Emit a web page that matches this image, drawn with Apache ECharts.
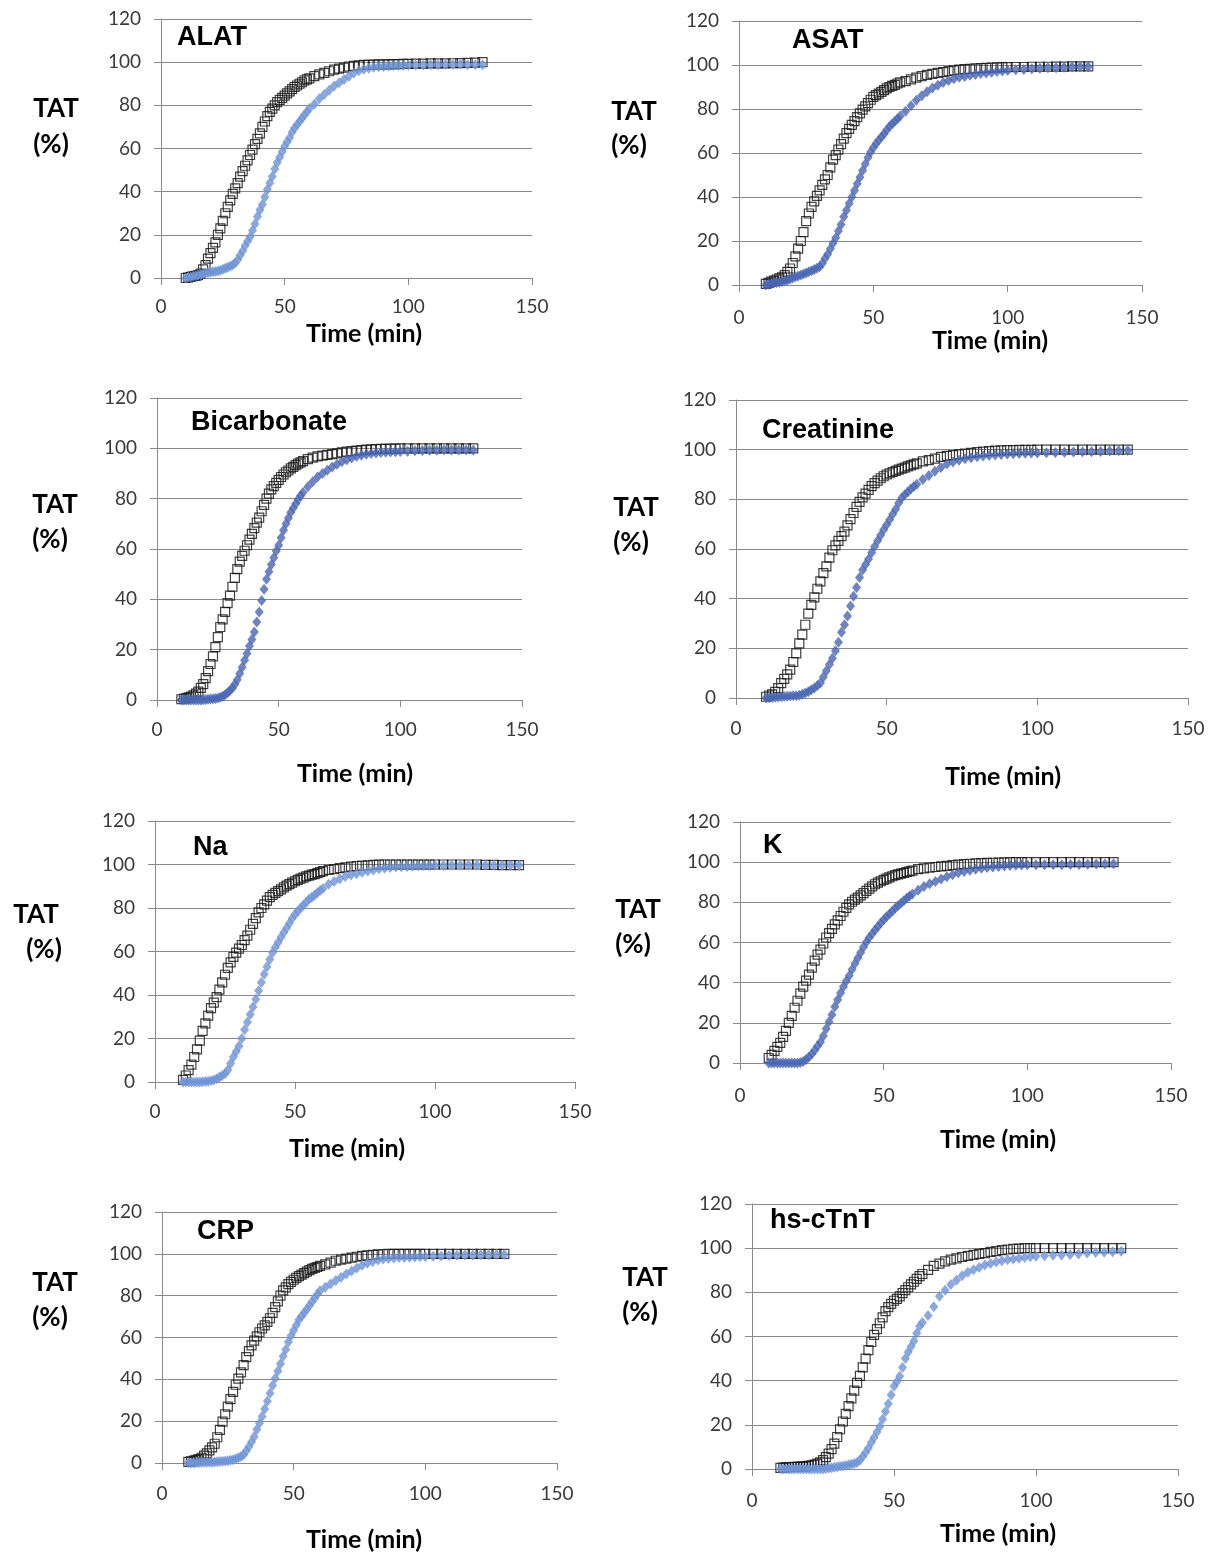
<!DOCTYPE html>
<html>
<head>
<meta charset="utf-8">
<script src="https://cdn.jsdelivr.net/npm/echarts@6/dist/echarts.min.js"></script>
<style>
html,body{margin:0;padding:0;background:#fff;}
#chart{width:1221px;height:1556px;}
</style>
</head>
<body>
<div id="chart"></div>
<script>
// ---------------- DATA ----------------
const panelTitles = ["ALAT", "ASAT", "Bicarbonate", "Creatinine", "Na", "K", "CRP", "hs-cTnT"];
const xTicks = [0, 50, 100, 150];
const yTicks = [0, 20, 40, 60, 80, 100, 120];

// time (min) at which the cumulative TAT (%) is read
const times = [10,11,12,13,14,15,16,17,18,19,20,21,22,23,24,25,26,27,28,29,
  30,31,32,33,34,35,36,37,38,39,40,41,42,43,44,45,46,47,48,49,
  50,51,52,53,54,55,56,57,58,59,60,
  62,64,66,68,70,72,74,76,78,80,82,84,86,88,90,92,94,96,98,100,
  103,106,109,112,115,118,121,124,127,130];

// black open squares
const alatSq = [0,0.3,0.5,0.8,1,1.3,2,4,6,9,11.5,14,16.5,20,23,26.5,30,33,36,39,
  41.5,44,47,49.5,52,54.5,57,59.5,62,64.5,67,70,72.5,75,77,78.5,80,81.5,82.5,83.5,
  84.5,85.5,86.5,87.5,88.5,89.2,90,90.7,91.5,92,92.5,
  93.5,94.3,95,95.8,96.5,97,97.5,98,98.3,98.5,98.7,98.8,98.9,99,99,99,99.1,99.1,99.2,99.2,
  99.3,99.3,99.4,99.4,99.4,99.5,99.6,99.7,99.8,100];
// blue diamonds
const alatDi = [0,0.3,0.5,0.8,1,1.3,1.6,2,2.2,2.5,2.7,2.9,3,3.3,3.6,4,4.5,5,5.5,6,
  7,8.5,10.5,12.5,15,17,19,22,25,28.5,31.5,34,37.5,41,44,47,50.5,53.5,56,58.5,
  61,63,65,67.5,69.5,71,72.5,74,75.5,77,78.5,
  80.5,83,85,87,89,90.5,92,93.5,95,96,96.7,97.2,97.6,97.9,98,98.2,98.3,98.4,98.5,98.6,
  98.7,98.7,98.8,98.8,98.9,98.9,99,98.8,98.8,98.8];

const asatSq = [0.5,1,1.5,2,2.5,3,3.5,4.5,6,7.5,10,13,16.5,20,24,29,32.5,35.5,38,40.5,
  43,45.5,48,50,53.5,57,59,61.5,64,66.5,69,71,72.8,74.5,76.3,78,79.7,81.2,82.7,84.2,
  85.5,86.3,87,87.8,88.6,89.4,90,90.5,91,91.6,92.1,
  92.7,93.5,94.3,94.9,95.5,96,96.4,96.8,97.2,97.6,97.9,98.1,98.3,98.5,98.6,98.7,98.8,98.9,99,99,
  99.1,99.1,99.2,99.2,99.2,99.3,99.3,99.4,99.4,99.4];
const asatDi = [0,0.3,0.6,0.9,1.1,1.3,1.5,1.8,2.2,2.7,3.2,3.7,4.1,4.5,5,5.5,6,6.5,7,7.6,
  8.3,9.8,12,14,16.5,19,21.5,24.5,27.5,31,34,37,40,43,46,49,52,55,58,60.5,
  62.5,64.2,65.8,67.3,68.8,70.4,72,73.2,74.4,75.6,76.8,
  79,81.5,84,86,87.8,89.5,90.8,92,93,93.8,94.4,94.8,95.3,95.7,96.1,96.4,96.7,97.1,97.3,97.5,
  97.8,98,98.3,98.5,98.7,98.8,99,99.1,99.2,99.2];

const bicSq = [0.3,0.5,0.8,1.1,1.4,1.8,2.5,3.3,4.8,6.3,8.7,11.5,14.3,17.3,21,25,29,32,35,38.5,
  41.5,45,48.5,52,55,57.3,59.3,61.5,63.7,66,68.3,70.5,72.5,75,77.5,80,82,83.7,85,86.3,
  87.5,88.6,89.6,90.5,91.2,92,92.6,93.3,93.9,94.4,94.9,
  95.7,96.3,96.8,97.1,97.4,97.7,98,98.4,98.7,98.9,99.1,99.3,99.5,99.6,99.7,99.8,99.8,99.9,99.9,100,
  100,100,100,100,100,100,100,100,100,100];
const bicDi = [0,0,0,0,0,0,0,0,0,0.1,0.2,0.3,0.4,0.5,0.6,0.8,1.1,1.5,2.1,2.9,
  3.8,4.8,6.3,8,10.5,13,15.8,18.5,21.5,24,27,31,35,39.5,44,48,51,53.8,56.5,59.2,
  61.5,64.5,67.5,70,72.3,74.6,76.3,78,79.7,81.2,82.5,
  84.7,86.7,88.6,90,91.3,92.6,93.7,94.7,95.5,96.2,96.9,97.3,97.6,97.9,98.1,98.3,98.4,98.5,98.6,98.7,
  98.8,99,99.1,99.2,99.2,99.3,99.3,99.3,99.3,99.2];

const creaSq = [0.5,1,1.5,2.5,4,6,7.7,9.5,11.4,14.5,18,22,25.5,29.5,34,37.5,40.5,44,47,50.3,
  53,56.5,59.5,61.5,63.3,65.2,67,69.5,72,74.5,77,79,80.8,82.3,83.8,85.3,86.5,87.5,88.5,89.3,
  90,90.5,91,91.5,92,92.4,92.8,93.3,93.7,94.1,94.5,
  95.3,95.8,96.4,97.1,97.5,97.8,98.1,98.4,98.7,99,99.2,99.4,99.6,99.7,99.8,99.8,99.9,99.9,99.9,100,
  100,100,100,100,100,100,100,100,100,100];
const creaDi = [0,0.1,0.2,0.3,0.4,0.5,0.6,0.7,0.8,0.9,0.9,1.1,1.5,2,2.5,3.3,4,5,6,8.5,
  11,13.5,16,19,22.5,26.5,29.5,33,37,41,44.5,48.5,51.5,53.8,56,58.5,61,63.3,65.5,67.8,
  69.8,71.8,74,76,78.5,80.5,81.8,83,84.2,85.2,86.1,
  88,89.6,91.3,92.8,94.2,95,95.7,96.3,96.7,97.1,97.4,97.7,97.9,98.1,98.3,98.4,98.5,98.6,98.7,98.7,
  98.8,98.9,99,99.1,99.2,99.2,99.3,99.5,99.6,99.7];

const naSq = [1,3,5.5,8,11.5,15,19,23.5,27,30.5,34,36.5,39,42.5,45.8,49.3,52.5,55,57.5,59.5,
  61.3,63,65.2,67.3,70,72.7,75.3,78,80,81.7,83.4,85,86,87,87.8,88.6,89.5,90.3,91,91.7,
  92.3,92.9,93.5,94,94.5,94.9,95.3,95.6,96,96.5,97,
  97.5,97.9,98.3,98.7,99,99.3,99.5,99.6,99.8,99.9,100,100,100,100,100,100,100,100,100,100,
  100,100,100,100,100,99.8,99.8,99.7,99.7,99.7];
const naDi = [0,0,0,0,0,0,0,0.1,0.2,0.4,0.6,0.9,1.5,2.2,3,3.8,5.5,8.5,11.5,14,
  16.5,20,24,27.5,31,34.5,38,42,45.7,49.5,53,56.3,59.5,62,64.3,66.5,68.7,70.8,73,75.3,
  77,78.5,80,81.3,82.6,84,85,86,87,88,89,
  90.9,92.2,93.4,94.5,95.2,95.8,96.4,97,97.5,98,98.3,98.6,98.8,99,99.1,99.2,99.3,99.4,99.4,99.5,
  99.5,99.6,99.6,99.6,99.6,99.7,99.7,99.7,99.7,99.7];

const kSq = [2.5,4,6,8,10,13,16,20,23.5,27.5,31,34.5,38,41,44,47.5,51,54,56.5,59.5,
  62.5,64.7,66.8,69,71,73.2,75.3,77.2,79,80.3,81.3,82.3,83.5,84.6,85.7,86.8,87.9,89,89.8,90.5,
  91.2,91.8,92.4,93,93.5,93.9,94.3,94.6,95,95.4,95.8,
  96.5,96.9,97.3,97.6,97.9,98.2,98.5,98.8,99,99.2,99.4,99.5,99.6,99.7,99.8,99.9,100,100,100,100,
  100,100,100,100,100,100,100,100,100,100];
const kDi = [0,0,0,0,0,0,0,0,0,0,0,0.3,0.8,1.7,3,4.5,6.3,8.5,10.5,13.5,
  17,20.5,24,28,31.5,34.8,38,40.8,43.5,46.5,49.5,52.3,55,57.7,60.3,62.5,64.4,66.2,68,69.7,
  71.3,72.8,74.2,75.6,77,78.3,79.6,80.8,82,83.2,84.2,
  86,87.9,89.2,90.4,91.6,92.7,93.7,94.7,95.4,96,96.5,97,97.3,97.6,97.9,98.1,98.3,98.5,98.6,98.7,
  98.7,98.7,98.7,98.7,98.8,98.9,99,99.1,99.1,99.2];

const crpSq = [0.5,0.8,1.1,1.5,1.9,2.5,3.5,4.6,6,7.5,9.2,12.3,15.8,19.8,23.3,27,30.5,34,37.4,40.3,
  43.3,46.8,50.6,53.5,56.2,58.5,60.5,62.5,64.3,65.8,67.5,69.2,71.8,74.5,77.3,80,82.5,84,85.5,86.6,
  87.6,88.5,89.3,90.1,90.8,91.5,92.2,92.8,93.3,93.7,94.2,
  95,95.8,96.7,97.2,97.7,98.2,98.6,99,99.3,99.5,99.7,99.8,100,100,100,100,100,100,100,100,
  100,100,100,100,100,100,100,100,100,100];
const crpDi = [0,0,0,0.1,0.1,0.2,0.3,0.3,0.4,0.4,0.5,0.6,0.7,0.8,0.9,1.1,1.3,1.6,2,2.5,
  3.1,4,5.8,7.8,10,12.5,16,19,22.2,25.8,29.5,33.3,37,40.5,44,47.5,51,54.3,57.8,60.8,
  63.4,66,68.5,70.2,71.8,73.5,75.3,77.1,78.9,80.7,82.3,
  84,85.6,87.2,88.8,90.3,91.8,93.2,94.6,95.5,96.3,97,97.5,97.8,98,98.2,98.3,98.4,98.5,98.6,98.7,
  98.9,99,99.2,99.3,99.4,99.5,99.6,99.6,99.7,99.7];

const tntSq = [0.5,0.6,0.7,0.8,0.9,1,1,1.1,1.1,1.2,1.4,1.7,2,2.4,3,4,5.4,7,9,11.5,
  14.5,18,21.5,25,28.5,32,35.5,39,42.2,46,50,53.8,57.5,60.7,63.3,66,68.7,71.5,73.3,74.8,
  76.2,77,78.2,79.6,81,82.3,83.6,84.8,86.1,87.3,88.3,
  90.2,92,93,94,94.8,95.4,96,96.5,97,97.4,97.8,98.3,98.7,99.1,99.4,99.7,99.8,100,100,100,
  100,100,100,100,100,100,100,100,100,100];
const tntDi = [0,0,0,0,0,0,0,0,0,0,0,0,0,0,0,0,0.2,0.4,0.6,0.8,
  1,1.2,1.4,1.6,1.9,2.2,2.5,3,4,5.7,7.5,9.5,12,14.3,16.8,19.3,22.5,26,29.5,33.5,
  37.5,39.5,42,46,50,53,55.5,58,61.5,64.6,66.3,
  69.5,73.5,78.2,81,83.5,85.5,87.5,89.1,90.2,91.3,92.4,93.1,93.7,94.3,94.7,95.1,95.4,95.8,96.1,96.3,
  96.6,96.8,96.9,97.1,97.4,97.8,98,98.2,98.4,98.6];

const squareSeries = [alatSq, asatSq, bicSq, creaSq, naSq, kSq, crpSq, tntSq];
const diamondSeries = [alatDi, asatDi, bicDi, creaDi, naDi, kDi, crpDi, tntDi];

// ---------------- LAYOUT / STYLE ----------------
const layout = [
  {l:161, t:19,   w:371, h:259, xm:19, blue:'#6f93d6', title:[177,38],  time:[364,334],  tat:[56,109],   pct:[51,145]},
  {l:739, t:21,   w:403, h:264, xm:23, blue:'#4a67b3', title:[792,41],  time:[990,341],  tat:[634,112],  pct:[629,146]},
  {l:157, t:398,  w:365, h:302, xm:20, blue:'#4a67b3', title:[191,423], time:[355,774],  tat:[55,505],   pct:[50,540]},
  {l:736, t:400,  w:452, h:298, xm:21, blue:'#4a67b3', title:[762,431], time:[1003,777], tat:[636,508],  pct:[631,543]},
  {l:155, t:821,  w:420, h:261, xm:20, blue:'#6f93d6', title:[193,848], time:[347,1149], tat:[36,915],   pct:[44,950]},
  {l:740, t:822,  w:431, h:241, xm:23, blue:'#4a67b3', title:[763,846], time:[998,1140], tat:[638,910],  pct:[633,945]},
  {l:162, t:1212, w:395, h:251, xm:21, blue:'#6f93d6', title:[197,1232],time:[364,1540], tat:[55,1283],  pct:[50,1318]},
  {l:752, t:1204, w:426, h:265, xm:22, blue:'#6f93d6', title:[770,1221],time:[998,1534], tat:[645,1278], pct:[640,1313]}
];

const gridColor = '#8a8a8a';
const tickFont = 'Lato';

function pairs(vals) {
  const out = [];
  const n = Math.min(times.length, vals.length);
  for (let i = 0; i < n; i++) out.push([times[i], vals[i]]);
  return out;
}

const grids = [], xAxes = [], yAxes = [], series = [], graphics = [];
layout.forEach((p, i) => {
  grids.push({left:p.l, top:p.t, width:p.w, height:p.h, containLabel:false});
  xAxes.push({
    gridIndex:i, type:'value', min:xTicks[0], max:xTicks[xTicks.length-1], interval:xTicks[1]-xTicks[0],
    axisLine:{show:true, onZero:false, lineStyle:{color:gridColor, width:1}},
    axisTick:{show:true, inside:false, length:7, lineStyle:{color:gridColor}},
    splitLine:{show:false},
    axisLabel:{margin:p.xm, fontSize:19, color:'#3a3a3a', fontFamily:tickFont}
  });
  yAxes.push({
    gridIndex:i, type:'value', min:yTicks[0], max:yTicks[yTicks.length-1], interval:yTicks[1]-yTicks[0],
    axisLine:{show:true, lineStyle:{color:gridColor, width:1}},
    axisTick:{show:true, inside:false, length:7, lineStyle:{color:gridColor}},
    splitLine:{show:true, lineStyle:{color:gridColor, width:1}},
    axisLabel:{margin:20, fontSize:19, color:'#3a3a3a', fontFamily:tickFont}
  });
  series.push({
    type:'scatter', name:panelTitles[i] + ' squares', xAxisIndex:i, yAxisIndex:i,
    data:pairs(squareSeries[i]), symbol:'rect', symbolSize:9,
    itemStyle:{color:'rgba(255,255,255,0)', borderColor:'#111', borderWidth:1.2},
    z:2, silent:true
  });
  series.push({
    type:'scatter', name:panelTitles[i] + ' diamonds', xAxisIndex:i, yAxisIndex:i,
    data:pairs(diamondSeries[i]), symbol:'diamond', symbolSize:[9,11],
    itemStyle:{color:p.blue, borderWidth:0},
    z:3, silent:true
  });
  graphics.push({type:'text', x:p.title[0], y:p.title[1], z:10,
    style:{text:panelTitles[i], font:'bold 27px "Liberation Sans"', fill:'#000', textAlign:'left', textVerticalAlign:'middle'}});
  graphics.push({type:'text', x:p.time[0], y:p.time[1], z:10,
    style:{text:'Time (min)', font:'bold 25px Lato', fill:'#000', textAlign:'center', textVerticalAlign:'middle'}});
  graphics.push({type:'text', x:p.tat[0], y:p.tat[1], z:10,
    style:{text:'TAT', font:'bold 26px Lato', fill:'#000', textAlign:'center', textVerticalAlign:'middle'}});
  graphics.push({type:'text', x:p.pct[0], y:p.pct[1], z:10,
    style:{text:'(%)', font:'bold 26px Lato', fill:'#000', textAlign:'center', textVerticalAlign:'middle'}});
});

const chart = echarts.init(document.getElementById('chart'), null, {renderer:'canvas'});
chart.setOption({
  backgroundColor:'#fff',
  animation:false,
  grid:grids, xAxis:xAxes, yAxis:yAxes, series:series, graphic:graphics
});
</script>
</body>
</html>
